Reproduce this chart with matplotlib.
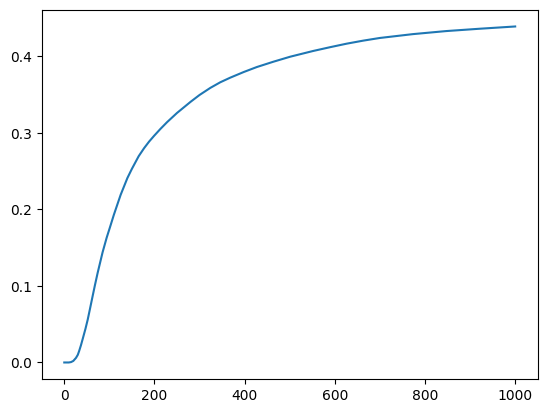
import matplotlib
matplotlib.use("Agg")
import matplotlib.pyplot as plt

x_vals = [0, 10, 15, 20, 26, 30, 33, 37, 41, 47, 52, 57, 63, 68, 74, 85, 94, 101, 110, 125,
          140, 150, 165, 177, 188, 199, 213, 228, 250, 280, 300, 324, 346, 368, 398, 427, 464,
          501, 552, 590, 626, 663, 700, 773, 847, 920, 1000]
y_vals = [0.0, 0.0, 0.0005, 0.002, 0.006, 0.010, 0.015, 0.0225, 0.031, 0.044, 0.056, 0.070,
          0.087, 0.101, 0.117, 0.144, 0.163, 0.176, 0.193, 0.219, 0.241, 0.253, 0.2695, 0.280,
          0.2885, 0.296, 0.305, 0.314, 0.326, 0.3405, 0.3495, 0.3588, 0.3661, 0.3721, 0.3795,
          0.386, 0.393, 0.3995, 0.407, 0.412, 0.4165, 0.4205, 0.424, 0.429, 0.433, 0.436, 0.439]

fig, ax = plt.subplots()
ax.plot(x_vals, y_vals)
fig.savefig("out.png", dpi=100, bbox_inches="tight")
